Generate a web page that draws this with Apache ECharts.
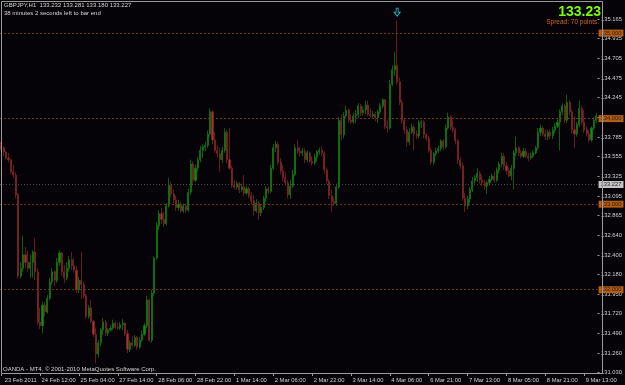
<!DOCTYPE html>
<html><head><meta charset="utf-8">
<script src="https://cdn.jsdelivr.net/npm/echarts@6/dist/echarts.min.js"></script>
<style>html,body{margin:0;padding:0;background:#050308;}#c{width:625px;height:385px;}</style>
</head><body><div id="c"></div>
<script>
// ---- text ----
const headerLine1 = 'GBPJPY,H1  133.232 133.281 133.180 133.227';
const headerLine2 = '38 minutes 2 seconds left to bar end';
const bigPriceText = '133.23';
const spreadText = 'Spread: 70 points.';
const copyrightText = 'OANDA - MT4, \u00a9 2001-2010 MetaQuotes Software Corp.';

// ---- axis tick labels ----
const xTickLabels = ['23 Feb 2011','24 Feb 12:00','25 Feb 04:00','27 Feb 14:00','28 Feb 06:00','28 Feb 22:00','1 Mar 14:00','2 Mar 06:00','2 Mar 22:00','3 Mar 14:00','4 Mar 06:00','6 Mar 21:00','7 Mar 13:00','8 Mar 05:00','8 Mar 21:00','9 Mar 13:00'];
const yTickLabels = ['131.030','131.260','131.490','131.720','131.950','132.180','132.400','132.640','132.865','133.095','133.325','133.555','133.785','134.015','134.245','134.475','134.705','134.935','135.165'];
const levelLines = [135.000, 134.000, 133.000, 132.000];
const bidPrice = 133.227;
const yMin = 131.015, yMax = 135.375;

// ---- hourly OHLC ----
const opens = [
133.68,133.66,133.61,133.54,133.52,133.38,133.34,133.11,132.16,132.25,
132.41,132.32,132.25,132.32,132.44,132.21,131.62,131.58,131.82,131.74,
131.90,132.09,132.21,132.11,132.32,132.43,132.21,132.14,132.25,132.35,
132.28,132.23,132.00,132.11,132.06,131.93,131.69,131.79,131.63,131.48,
131.25,131.38,131.53,131.62,131.49,131.53,131.55,131.61,131.56,131.55,
131.59,131.61,131.49,131.30,131.38,131.35,131.44,131.33,131.41,131.48,
131.58,131.88,131.41,131.96,132.37,132.75,132.89,132.82,132.77,132.98,
133.22,133.12,133.05,132.96,133.00,132.92,132.98,132.93,133.14,133.47,
133.28,133.42,133.52,133.63,133.67,133.69,133.82,134.08,133.75,133.63,
133.59,133.52,133.63,133.84,133.52,133.42,133.22,133.20,133.24,133.17,
133.20,133.13,133.18,133.10,133.04,132.92,133.01,132.90,132.96,133.07,
133.18,133.15,133.42,133.66,133.70,133.49,133.39,133.31,133.25,133.11,
133.21,133.35,133.66,133.62,133.60,133.62,133.52,133.60,133.50,133.48,
133.55,133.61,133.63,133.60,133.40,133.27,133.10,133.03,133.01,133.20,
133.98,133.81,134.03,134.10,133.98,133.96,134.03,134.05,134.15,134.07,
134.10,134.16,134.05,134.03,134.05,134.01,134.08,134.15,134.22,133.91,
133.89,134.40,134.57,134.62,134.43,134.19,133.98,133.87,133.73,133.84,
133.90,133.82,133.80,133.95,133.96,133.81,133.77,133.63,133.49,133.59,
133.62,133.65,133.74,133.67,133.89,134.02,133.90,133.87,133.74,133.52,
133.45,133.07,132.98,133.06,133.17,133.27,133.31,133.36,133.28,133.25,
133.21,133.25,133.29,133.33,133.28,133.40,133.47,133.56,133.45,133.39,
133.33,133.42,133.60,133.66,133.60,133.56,133.62,133.56,133.54,133.56,
133.60,133.66,133.84,133.89,133.82,133.79,133.84,133.80,133.87,133.91,
133.96,134.08,134.15,133.98,134.19,134.08,133.87,133.82,133.93,134.12,
133.96,133.87,133.82,133.75,133.89,133.98];
const closes = [
133.66,133.61,133.54,133.52,133.38,133.34,133.11,132.16,132.25,132.41,
132.32,132.25,132.32,132.44,132.21,131.62,131.58,131.82,131.74,131.90,
132.09,132.21,132.11,132.32,132.43,132.21,132.14,132.25,132.35,132.28,
132.23,132.00,132.11,132.06,131.93,131.69,131.79,131.63,131.48,131.25,
131.38,131.53,131.62,131.49,131.53,131.55,131.61,131.56,131.55,131.59,
131.61,131.49,131.30,131.38,131.35,131.44,131.33,131.41,131.48,131.58,
131.88,131.41,131.96,132.37,132.75,132.89,132.82,132.77,132.98,133.22,
133.12,133.05,132.96,133.00,132.92,132.98,132.93,133.14,133.47,133.28,
133.42,133.52,133.63,133.67,133.69,133.82,134.08,133.75,133.63,133.59,
133.52,133.63,133.84,133.52,133.42,133.22,133.20,133.24,133.17,133.20,
133.13,133.18,133.10,133.04,132.92,133.01,132.90,132.96,133.07,133.18,
133.15,133.42,133.66,133.70,133.49,133.39,133.31,133.25,133.11,133.21,
133.35,133.66,133.62,133.60,133.62,133.52,133.60,133.50,133.48,133.55,
133.61,133.63,133.60,133.40,133.27,133.10,133.03,133.01,133.20,133.98,
133.81,134.03,134.10,133.98,133.96,134.03,134.05,134.15,134.07,134.10,
134.16,134.05,134.03,134.05,134.01,134.08,134.15,134.22,133.91,133.89,
134.40,134.57,134.62,134.43,134.19,133.98,133.87,133.73,133.84,133.90,
133.82,133.80,133.95,133.96,133.81,133.77,133.63,133.49,133.59,133.62,
133.65,133.74,133.67,133.89,134.02,133.90,133.87,133.74,133.52,133.45,
133.07,132.98,133.06,133.17,133.27,133.31,133.36,133.28,133.25,133.21,
133.25,133.29,133.33,133.28,133.40,133.47,133.56,133.45,133.39,133.33,
133.42,133.60,133.66,133.60,133.56,133.62,133.56,133.54,133.56,133.60,
133.66,133.84,133.89,133.82,133.79,133.84,133.80,133.87,133.91,133.96,
134.08,134.15,133.98,134.19,134.08,133.87,133.82,133.93,134.12,133.96,
133.87,133.82,133.75,133.89,133.98,134.03];
const highs = [
133.73,133.68,133.63,133.60,133.52,133.46,133.38,133.13,132.32,132.63,
132.50,132.46,132.41,132.46,132.60,132.25,131.79,131.86,131.86,131.94,
132.14,132.25,132.23,132.37,132.46,132.44,132.29,132.32,132.39,132.44,
132.37,132.28,132.15,132.44,132.09,131.95,131.82,131.88,131.65,131.55,
131.41,131.55,131.67,131.65,131.55,131.59,131.65,131.63,131.61,131.62,
131.66,131.62,131.53,131.41,131.46,131.47,131.46,131.45,131.52,131.61,
131.93,131.90,132.00,132.39,132.79,132.93,132.96,132.91,133.01,133.31,
133.26,133.17,133.10,133.05,133.03,133.01,133.00,133.18,133.52,133.50,
133.46,133.55,133.68,133.70,133.73,133.86,134.12,134.10,133.84,133.69,
133.66,133.67,133.89,133.87,133.89,133.45,133.28,133.27,133.26,133.24,
133.34,133.21,133.20,133.14,133.11,133.06,133.04,133.00,133.10,133.21,
133.21,133.46,133.70,133.74,133.73,133.54,133.46,133.38,133.28,133.28,
133.40,133.70,133.75,133.67,133.66,133.65,133.63,133.61,133.56,133.59,
133.63,133.66,133.68,133.62,133.43,133.29,133.17,133.08,133.24,134.02,
134.05,134.08,134.15,134.12,134.05,134.07,134.10,134.18,134.17,134.14,
134.21,134.21,134.12,134.09,134.08,134.10,134.18,134.24,134.23,133.98,
134.45,134.62,134.78,135.15,134.48,134.22,134.01,133.91,133.89,133.94,
133.93,133.86,133.98,133.98,133.98,133.83,133.80,133.66,133.61,133.66,
133.68,133.76,133.76,133.93,134.07,134.04,133.98,133.89,133.76,133.55,
133.49,133.13,133.10,133.20,133.32,133.34,133.42,133.39,133.34,133.28,
133.27,133.33,133.36,133.38,133.43,133.50,133.60,133.60,133.49,133.43,
133.46,133.63,133.79,133.68,133.63,133.66,133.65,133.60,133.60,133.63,
133.68,133.89,133.93,133.91,133.87,133.87,133.88,133.90,133.95,134.00,
134.11,134.18,134.17,134.28,134.22,134.10,134.03,133.96,134.21,134.15,
134.10,133.91,133.87,133.91,134.02,134.07];
const lows = [
133.63,133.56,133.52,133.49,133.35,133.31,133.07,132.13,132.13,132.21,
132.25,132.21,132.14,132.14,132.11,131.59,131.54,131.49,131.69,131.72,
131.88,132.06,132.04,132.08,132.28,132.16,132.08,132.11,132.21,132.23,
132.20,131.96,131.96,131.89,131.90,131.66,131.66,131.61,131.45,131.14,
131.21,131.34,131.47,131.46,131.46,131.51,131.53,131.54,131.53,131.53,
131.53,131.46,131.26,131.27,131.33,131.33,131.30,131.31,131.39,131.46,
131.55,131.39,131.38,131.93,132.35,132.70,132.77,132.73,132.75,132.96,
133.08,133.01,132.92,132.93,132.90,132.90,132.90,132.91,133.11,133.24,
133.26,133.38,133.49,133.54,133.62,133.66,133.79,133.70,133.60,133.55,
133.38,133.48,133.60,133.48,133.40,133.19,133.17,133.17,133.13,133.14,
133.10,133.11,133.07,133.00,132.87,132.90,132.82,132.86,132.93,133.03,
133.12,133.13,133.40,133.61,133.46,133.35,133.27,133.21,133.07,133.06,
133.19,133.33,133.59,133.56,133.56,133.48,133.49,133.48,133.45,133.46,
133.50,133.58,133.56,133.36,133.24,133.06,132.91,132.98,132.98,133.18,
133.75,133.77,134.01,133.95,133.94,133.94,133.95,134.01,134.03,134.04,
134.05,134.03,134.01,134.00,133.97,133.95,134.05,134.12,133.88,133.84,
133.87,134.38,134.50,134.40,134.16,133.94,133.82,133.67,133.69,133.82,
133.63,133.76,133.77,133.89,133.77,133.74,133.60,133.46,133.46,133.56,
133.60,133.62,133.63,133.65,133.87,133.87,133.84,133.70,133.47,133.41,
133.04,132.91,132.94,133.01,133.14,133.24,133.26,133.24,133.21,133.17,
133.12,133.22,133.27,133.25,133.26,133.36,133.43,133.40,133.35,133.31,
133.28,133.17,133.56,133.56,133.54,133.54,133.54,133.50,133.52,133.54,
133.58,133.63,133.80,133.79,133.75,133.75,133.76,133.76,133.83,133.89,
133.63,134.04,133.95,133.95,134.04,133.83,133.66,133.79,133.90,133.93,
133.83,133.79,133.72,133.73,133.87,133.95];

const highBarIndex = 163; // bar marked with the arrow

// ---- build ----
const categories = closes.map((_, i) => i);
const ohlc = closes.map((c, i) => [opens[i], c, lows[i], highs[i]]);
const yTickValues = yTickLabels.map(Number);
const FONT = '"Liberation Sans", Arial, sans-serif';
const SMALL = 5.8;
const txt = (s, extra) => Object.assign({color:'#d4d4d4', fontSize:6, fontWeight:'normal', fontFamily:FONT}, extra || {});

const chart = echarts.init(document.getElementById('c'), null, {renderer:'canvas', width:625, height:385});
const levelData = levelLines.map(v => ({
  yAxis: v,
  lineStyle: {color:'#6e3810', type:[2,2], width:1},
  label: {formatter: v.toFixed(3), backgroundColor:'#b05c1a', color:'#3a1a04'}
}));
levelData.push({
  yAxis: bidPrice,
  lineStyle: {color:'#4a4a4a', type:[1,2], width:1},
  label: {formatter: bidPrice.toFixed(3), backgroundColor:'#c4c4c4', color:'#2a2a2a'}
});

chart.setOption({
  animation: false,
  backgroundColor: '#050308',
  title: [
    {text: headerLine1, left: 4, top: 2, padding: 0, textStyle: txt()},
    {text: headerLine2, left: 4, top: 10, padding: 0, textStyle: txt()},
    {text: bigPriceText, right: 24, top: 5, padding: 0, textStyle: txt(0, {color:'#7cfc00', fontSize:14, fontWeight:'bold'})},
    {text: spreadText, right: 26, top: 19, padding: 0, textStyle: txt(0, {color:'#d2691e', fontSize:6.5})},
    {text: copyrightText, left: 3, top: 366, padding: 0, textStyle: txt()}
  ],
  grid: {left: -2.13, right: 22.5, top: 1, bottom: 11, containLabel: false},
  xAxis: {
    type: 'category', data: categories, boundaryGap: true,
    axisLine: {show: false},
    axisTick: {show: true, interval: 15, alignWithLabel: true, length: 2, lineStyle: {color:'#9a9a9a'}},
    axisLabel: {
      interval: 15, align: 'left', margin: 3, fontSize: SMALL, color: '#d0d0d0', fontFamily: FONT,
      padding: [0,0,0,1.5],
      formatter: (v, idx) => idx === 0 ? '{f|' + xTickLabels[0] + '}' : (xTickLabels[idx / 16] || ''),
      rich: {f: {fontSize: SMALL, color:'#d0d0d0', fontFamily: FONT, padding:[0,0,0,2]}}
    },
    splitLine: {show: false}
  },
  yAxis: {
    type: 'value', position: 'right', min: yMin, max: yMax,
    axisLine: {show: false},
    axisTick: {show: true, customValues: yTickValues, length: 2, lineStyle: {color:'#9a9a9a'}},
    axisLabel: {
      customValues: yTickValues, margin: 3.5, fontSize: SMALL, color: '#d0d0d0', fontFamily: FONT,
      formatter: v => { const k = yTickValues.findIndex(t => Math.abs(t - v) < 1e-6); return k >= 0 ? yTickLabels[k] : ''; }
    },
    splitLine: {show: false}
  },
  series: [{
    type: 'candlestick',
    data: ohlc,
    barWidth: 1.6,
    itemStyle: {color:'#108c10', color0:'#a83434', borderColor:'#0c7a0c', borderColor0:'#7e2222', borderWidth: 0.8},
    markLine: {
      silent: true, symbol: ['none','none'], animation: false,
      label: {show: true, position: 'end', distance: 1, fontSize: SMALL, fontFamily: FONT, padding: [1,2,0,2], lineHeight: 6},
      data: levelData
    },
    markPoint: {
      silent: true,
      symbol: 'path://M2,0 L4,0 L4,4 L6,4 L3,8 L0,4 L2,4 Z',
      symbolSize: [6, 8], symbolOffset: [0, -8],
      itemStyle: {color: 'rgba(0,0,0,0)', borderColor: '#22a8b8', borderWidth: 1},
      label: {show: false},
      data: [{coord: [highBarIndex, highs[highBarIndex]]}]
    }
  }],
  graphic: [{
    type: 'rect', silent: true, z: 100,
    shape: {x: 1.5, y: 1.5, width: 601, height: 372},
    style: {fill: 'none', stroke: '#9a9a9a', lineWidth: 1}
  }]
});
</script>
</body></html>
